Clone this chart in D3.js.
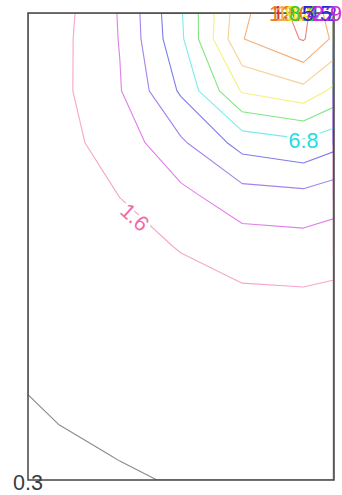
<!DOCTYPE html>
<html>
<head>
<meta charset="utf-8">
<script src="https://cdn.jsdelivr.net/npm/d3@7"></script>
<style>
  html, body { margin: 0; padding: 0; background: #ffffff; }
  svg { display: block; font-family: "Liberation Sans", Arial, Helvetica, sans-serif; }
</style>
</head>
<body>
<svg id="chart" width="342" height="495"></svg>
<script>
// Grid node positions in data units (edges at 0 and max, cell centres in between)
const xNodes = [0, 0.5, 1.5, 2.5, 3.5, 4.5, 5];
const yNodes = [0, 0.5, 1.5, 2.5, 3.5, 4.5, 5.5, 6.5, 7.5, 8.5, 9];

// Field values, one row per yNode (top to bottom), one column per xNode
const zRows = [
  [0.85, 1.09, 2.99, 6.68, 11.70, 13.80, 11.00],
  [0.90, 1.18, 2.95, 6.56, 11.95, 13.40, 11.75],
  [0.92, 1.23, 2.82, 5.69,  9.53, 10.30,  9.10],
  [0.88, 1.20, 2.13, 4.00,  5.99,  6.52,  5.91],
  [0.78, 1.00, 1.62, 2.58,  3.72,  3.90,  3.50],
  [0.66, 0.80, 1.27, 1.65,  2.25,  2.35,  2.20],
  [0.56, 0.65, 1.00, 1.25,  1.33,  1.39,  1.27],
  [0.42, 0.50, 0.80, 1.00,  1.10,  1.15,  1.08],
  [0.28, 0.36, 0.55, 0.80,  0.90,  0.95,  0.90],
  [0.16, 0.22, 0.319, 0.45, 0.60,  0.68,  0.65],
  [0.12, 0.18, 0.249, 0.333, 0.45, 0.55,  0.52]
];

// Contour levels and their colours
const levels = [0.3, 1.6, 2.9, 4.2, 5.5, 6.8, 8.1, 9.4, 10.7, 12.0, 13.3];
const levelColors = ["#3c3c3c", "#ee6aa8", "#cc2ad8", "#6a2ee0", "#2424dc", "#22dde2",
                     "#2fd22f", "#ecea1e", "#f0b050", "#ee7a22", "#dd3030"];

const plot = { left: 28, top: 13, right: 334, bottom: 480 };

const svg = d3.select("#chart");

const xScale = d3.scaleLinear().domain([xNodes[0], xNodes[xNodes.length - 1]]).range([plot.left, plot.right]);
const yScale = d3.scaleLinear().domain([yNodes[0], yNodes[yNodes.length - 1]]).range([plot.top, plot.bottom]);

const nx = xNodes.length, ny = yNodes.length;
const edgeInset = 0.7;

// d3.contours puts value i at i + 0.5 with the grid border at 0 and n;
// map those coordinates onto the (uneven) node positions.
const gx = d3.scaleLinear()
  .domain([0, ...d3.range(nx).map(i => i + 0.5), nx])
  .range([xNodes[0], ...xNodes, xScale.invert(xScale(xNodes[nx - 1]) - edgeInset)]);
const gy = d3.scaleLinear()
  .domain([0, ...d3.range(ny).map(i => i + 0.5), ny])
  .range([yNodes[0], ...yNodes, yNodes[ny - 1]]);

const projection = d3.geoTransform({
  point(x, y) { this.stream.point(xScale(gx(x)), yScale(gy(y))); }
});
const path = d3.geoPath(projection);

const contours = d3.contours()
  .size([nx, ny])
  .thresholds(levels)(zRows.flat());

const colorOf = v => levelColors[levels.indexOf(v)];

svg.append("defs").append("clipPath").attr("id", "plot-clip")
  .append("rect")
  .attr("x", plot.left).attr("y", plot.top)
  .attr("width", plot.right - plot.left).attr("height", plot.bottom - plot.top);

svg.append("g")
  .attr("clip-path", "url(#plot-clip)")
  .selectAll("path")
  .data(contours)
  .join("path")
  .attr("d", path)
  .attr("fill", "none")
  .attr("stroke", d => colorOf(d.value))
  .attr("stroke-opacity", 0.6)
  .attr("stroke-width", 1.1)
  .attr("stroke-linejoin", "round");

// plot frame
svg.append("rect")
  .attr("x", plot.left).attr("y", plot.top)
  .attr("width", plot.right - plot.left).attr("height", plot.bottom - plot.top)
  .attr("fill", "none")
  .attr("stroke", "#444444")
  .attr("stroke-width", 1.5);

// contour labels
const fmt = d3.format(".1f");
const labelLayout = [
  { v: 13.3, x: 293, y: 21, angle: 0, halo: false },
  { v: 12.0, x: 290, y: 21, angle: 0, halo: false },
  { v: 10.7, x: 297, y: 21, angle: 0, halo: false },
  { v: 9.4,  x: 300, y: 21, angle: 0, halo: false },
  { v: 8.1,  x: 304, y: 21, angle: 0, halo: false },
  { v: 5.5,  x: 317, y: 21, angle: 0, halo: false },
  { v: 4.2,  x: 322, y: 21, angle: 0, halo: false },
  { v: 2.9,  x: 327, y: 21, angle: 0, halo: false },
  { v: 6.8,  x: 303.5, y: 148, angle: 0, halo: true },
  { v: 1.6,  x: 135, y: 217, angle: 42, halo: true, middle: true },
  { v: 0.3,  x: 28, y: 490, angle: 0, halo: false }
];

svg.append("g")
  .selectAll("text")
  .data(labelLayout)
  .join("text")
  .attr("transform", d => `translate(${d.x},${d.y}) rotate(${d.angle})`)
  .attr("dy", d => d.middle ? "0.36em" : 0)
  .attr("text-anchor", "middle")
  .attr("font-size", 21.5)
  .attr("fill", d => colorOf(d.v))
  .attr("stroke", d => d.halo ? "#ffffff" : "none")
  .attr("stroke-width", d => d.halo ? 6 : 0)
  .attr("paint-order", "stroke")
  .text(d => fmt(d.v));
</script>
</body>
</html>
